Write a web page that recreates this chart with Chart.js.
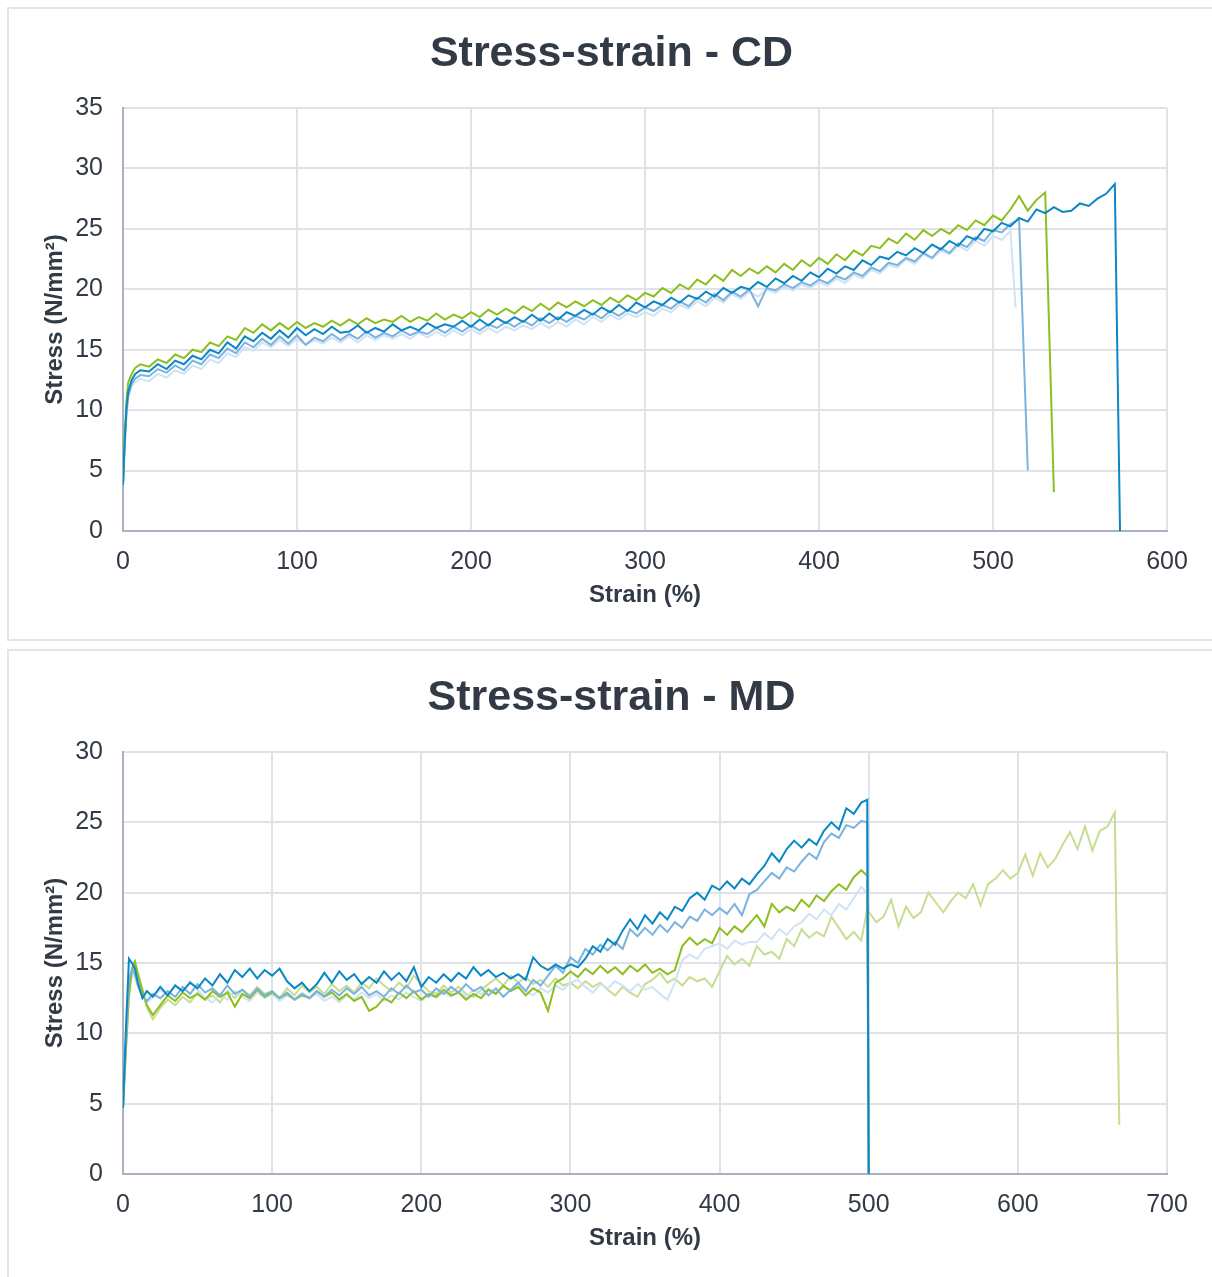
<!DOCTYPE html>
<html>
<head>
<meta charset="utf-8">
<title>Stress-strain</title>
<script src="https://cdn.jsdelivr.net/npm/chart.js@4"></script>
<style>
  body { margin: 0; background: #fff; width: 1212px; height: 1277px; overflow: hidden; position: relative; }
  .panel { position: absolute; left: 7px; width: 1212px; border: 2px solid #e1e5eb; box-sizing: border-box; }
  #p1 { top: 7px; height: 634px; }
  #p2 { top: 649px; height: 640px; }
  canvas { position: absolute; left: 0; }
  #cd { top: 0; }
  #md { top: 644px; }
  .title {
    position: absolute; left: 0; width: 1223px; text-align: center;
    font: bold 43px/50px "Liberation Sans", Arial, Helvetica, sans-serif;
    color: #323a46; white-space: nowrap;
  }
  #t1 { top: 26px; }
  #t2 { top: 670px; }
</style>
</head>
<body>
<div class="panel" id="p1"></div>
<div class="panel" id="p2"></div>
<canvas id="cd" width="1212" height="644"></canvas>
<canvas id="md" width="1212" height="633"></canvas>
<div class="title" id="t1">Stress-strain - CD</div>
<div class="title" id="t2">Stress-strain - MD</div>
<script>
// ---- CD data (strain %, stress N/mm²) ----
const cdStrain = [0, 1, 2, 3, 5, 7, 10,
  15, 20, 25, 30, 35, 40, 45, 50, 55, 60,
  65, 70, 75, 80, 85, 90, 95, 100, 105, 110,
  115, 120, 125, 130, 135, 140, 145, 150, 155, 160,
  165, 170, 175, 180, 185, 190, 195, 200, 205, 210,
  215, 220, 225, 230, 235, 240, 245, 250, 255, 260,
  265, 270, 275, 280, 285, 290, 295, 300, 305, 310,
  315, 320, 325, 330, 335, 340, 345, 350, 355, 360,
  365, 370, 375, 380, 385, 390, 395, 400, 405, 410,
  415, 420, 425, 430, 435, 440, 445, 450, 455, 460,
  465, 470, 475, 480, 485, 490, 495, 500, 505, 510,
  515, 520, 525, 530, 535, 540, 545, 550, 555, 560,
  565, 570];

const cdSample1 = [3.8, 7.5, 10.2, 11.5, 12.5, 13.0, 13.3,
  13.2, 13.8, 13.4, 14.1, 13.8, 14.5, 14.2, 15.0, 14.7, 15.6,
  15.1, 16.1, 15.7, 16.4, 15.9, 16.6, 16.0, 16.8, 16.2, 16.7,
  16.3, 16.9, 16.4, 16.5, 17.0, 16.4, 16.8, 16.5, 17.1, 16.6,
  16.9, 16.6, 17.2, 16.8, 17.1, 16.9, 17.4, 16.9, 17.5, 17.0,
  17.6, 17.2, 17.7, 17.3, 17.9, 17.4, 18.0, 17.5, 18.1, 17.8,
  18.3, 17.9, 18.5, 18.1, 18.7, 18.2, 18.9, 18.5, 19.0, 18.7,
  19.3, 18.9, 19.5, 19.2, 19.8, 19.4, 20.1, 19.7, 20.2, 20.0,
  20.6, 20.2, 20.9, 20.5, 21.1, 20.7, 21.4, 21.0, 21.7, 21.3,
  21.9, 21.6, 22.4, 22.0, 22.7, 22.5, 23.1, 22.8, 23.4, 23.0,
  23.7, 23.3, 24.0, 23.6, 24.4, 24.1, 25.0, 24.8, 25.5, 25.2,
  25.9, 25.6, 26.6, 26.3, 26.8, 26.4, 26.5, 27.1, 26.9, 27.5,
  27.9, 28.7];
const cdSample2 = [3.8, 8.0, 10.8, 12.3, 13.0, 13.5, 13.8,
  13.6, 14.2, 13.9, 14.6, 14.3, 15.0, 14.8, 15.6, 15.3, 16.1,
  15.8, 16.8, 16.4, 17.1, 16.6, 17.2, 16.7, 17.3, 16.8, 17.2,
  16.9, 17.4, 17.0, 17.5, 17.1, 17.6, 17.2, 17.5, 17.3, 17.8,
  17.3, 17.7, 17.4, 18.0, 17.5, 17.9, 17.6, 18.1, 17.7, 18.3,
  17.9, 18.4, 18.0, 18.6, 18.2, 18.8, 18.3, 18.9, 18.5, 19.0,
  18.6, 19.1, 18.7, 19.3, 18.9, 19.5, 19.1, 19.7, 19.4, 20.1,
  19.7, 20.4, 20.0, 20.8, 20.4, 21.2, 20.7, 21.6, 21.1, 21.7,
  21.3, 21.9, 21.4, 22.1, 21.6, 22.4, 21.9, 22.6, 22.1, 22.9,
  22.4, 23.2, 22.8, 23.6, 23.4, 24.2, 23.8, 24.6, 24.1, 24.9,
  24.4, 25.0, 24.6, 25.3, 24.9, 25.7, 25.3, 26.1, 25.7, 26.6,
  27.7, 26.5, 27.4, 28.0];
const cdSample3 = [3.8, 7.2, 9.8, 11.2, 12.2, 12.6, 12.9,
  12.8, 13.4, 13.1, 13.7, 13.3, 14.1, 13.8, 14.6, 14.3, 15.1,
  14.7, 15.6, 15.2, 15.9, 15.4, 16.1, 15.5, 16.2, 15.4, 16.0,
  15.7, 16.3, 15.8, 16.3, 15.9, 16.5, 16.0, 16.4, 16.1, 16.6,
  16.2, 16.5, 16.3, 16.8, 16.4, 16.9, 16.5, 17.0, 16.6, 17.1,
  16.8, 17.3, 16.9, 17.4, 17.0, 17.6, 17.2, 17.7, 17.3, 17.8,
  17.5, 18.0, 17.6, 18.2, 17.8, 18.3, 18.0, 18.5, 18.2, 18.7,
  18.4, 19.0, 18.6, 19.3, 18.9, 19.6, 19.1, 19.8, 19.4, 20.0,
  18.6, 20.1, 19.9, 20.4, 20.1, 20.6, 20.3, 20.8, 20.5, 21.1,
  20.8, 21.4, 21.1, 21.8, 21.5, 22.2, 22.0, 22.6, 22.3, 23.0,
  22.6, 23.4, 23.0, 23.8, 23.5, 24.3, 24.0, 24.9, 24.7, 25.4,
  25.8];
const cdSample4 = [3.8, 7.0, 9.5, 11.0, 12.0, 12.3, 12.6,
  12.4, 13.0, 12.7, 13.3, 13.0, 13.7, 13.4, 14.2, 13.9, 14.7,
  14.4, 15.2, 14.9, 15.6, 15.2, 15.8, 15.3, 15.9, 15.4, 15.8,
  15.5, 16.0, 15.6, 16.1, 15.6, 16.2, 15.8, 16.2, 15.9, 16.3,
  15.9, 16.4, 16.0, 16.5, 16.1, 16.6, 16.2, 16.7, 16.3, 16.8,
  16.4, 16.9, 16.6, 17.0, 16.7, 17.2, 16.8, 17.3, 16.9, 17.5,
  17.1, 17.7, 17.3, 17.9, 17.5, 18.0, 17.7, 18.1, 17.8, 18.4,
  18.1, 18.7, 18.4, 19.0, 18.6, 19.3, 18.9, 19.6, 19.2, 19.8,
  19.4, 20.0, 19.7, 20.2, 19.9, 20.4, 20.1, 20.6, 20.3, 20.9,
  20.5, 21.2, 20.9, 21.6, 21.3, 22.0, 21.8, 22.5, 22.1, 22.9,
  22.5, 23.2, 22.9, 23.6, 23.2, 24.0, 23.6, 24.4, 24.1, 24.8];
// where each sample breaks: final strain / stress
const cdBreakStrain = [573, 535, 520, 513];
const cdBreakStress = [0, 3.2, 5.0, 18.5];

// ---- MD data ----
const mdStrain = [0, 2, 4, 6, 8, 10, 13, 16, 20,
  25, 30, 35, 40, 45, 50, 55, 60, 65, 70,
  75, 80, 85, 90, 95, 100, 105, 110, 115, 120,
  125, 130, 135, 140, 145, 150, 155, 160, 165, 170,
  175, 180, 185, 190, 195, 200, 205, 210, 215, 220,
  225, 230, 235, 240, 245, 250, 255, 260, 265, 270,
  275, 280, 285, 290, 295, 300, 305, 310, 315, 320,
  325, 330, 335, 340, 345, 350, 355, 360, 365, 370,
  375, 380, 385, 390, 395, 400, 405, 410, 415, 420,
  425, 430, 435, 440, 445, 450, 455, 460, 465, 470,
  475, 480, 485, 490, 495, 499,
  505, 510, 515, 520, 525, 530, 535, 540, 545, 550,
  555, 560, 565, 570, 575, 580, 585, 590, 595, 600,
  605, 610, 615, 620, 625, 630, 635, 640, 645, 650,
  655, 660, 665];

const mdSample1 = [4.7, 10.5, 15.3, 15.0, 14.6, 13.6, 12.5, 13.0, 12.6,
  13.3, 12.7, 13.4, 13.0, 13.6, 13.2, 13.9, 13.4, 14.2, 13.6,
  14.5, 14.0, 14.6, 13.9, 14.5, 14.1, 14.6, 13.7, 13.2, 13.6,
  13.0, 13.5, 14.3, 13.6, 14.4, 13.8, 14.2, 13.5, 14.0, 13.6,
  14.4, 13.8, 14.3, 13.7, 14.7, 13.3, 14.0, 13.6, 14.2, 13.7,
  14.3, 13.9, 14.7, 14.1, 14.5, 14.0, 14.3, 13.9, 14.2, 13.8,
  15.4, 14.8, 14.5, 14.9, 14.6, 14.9, 14.7, 15.3, 16.2, 15.8,
  16.7, 16.3, 17.3, 18.1, 17.4, 18.4, 17.8, 18.6, 18.1, 19.0,
  18.7, 19.6, 20.0, 19.5, 20.5, 20.2, 20.8, 20.3, 21.0, 20.6,
  21.3, 21.9, 22.8, 22.2, 23.1, 23.7, 23.2, 23.8, 23.4, 24.4,
  25.0, 24.5, 26.0, 25.6, 26.4, 26.6];
const mdSample2 = [4.7, 9.5, 13.8, 14.6, 14.2, 13.4, 12.6, 12.3, 12.8,
  12.5, 13.0, 12.6, 13.3, 12.8, 13.5, 12.9, 13.2, 12.7, 13.4,
  12.8, 13.1, 12.6, 13.2, 12.7, 13.0, 12.5, 12.9, 12.4, 12.8,
  12.5, 13.0, 12.6, 13.1, 12.7, 13.2, 12.8, 13.3, 12.7, 13.0,
  12.6, 13.2, 12.8, 13.4, 12.9, 13.1, 12.6, 13.2, 12.8, 13.3,
  12.9, 13.5, 13.0, 13.3, 12.7, 13.2, 12.6, 13.1, 13.6, 13.0,
  13.8, 13.4, 14.1, 14.8, 14.3, 15.4, 15.0, 16.0, 15.6, 16.3,
  15.9, 16.5, 16.0, 17.4, 16.9, 17.5, 17.0, 17.7, 17.2, 17.9,
  17.5, 18.3, 18.0, 18.8, 18.4, 18.9, 18.5, 19.2, 18.4, 19.9,
  20.2, 20.8, 21.4, 21.0, 21.8, 21.5, 22.2, 22.8, 22.4, 23.6,
  24.2, 23.9, 24.8, 24.6, 25.1, 25.0];
const mdSample3 = [4.7, 9.0, 12.8, 14.5, 15.1, 14.2, 13.0, 12.0, 11.3,
  12.0, 12.7, 12.3, 12.9, 12.5, 12.8, 12.4, 13.0, 12.6, 12.9,
  11.9, 12.8, 12.5, 13.1, 12.6, 12.9, 12.5, 12.8, 12.4, 12.7,
  12.5, 13.0, 12.6, 12.9, 12.4, 12.8, 12.3, 12.6, 11.6, 11.9,
  12.5, 12.2, 12.9, 12.5, 13.0, 12.4, 12.8, 12.6, 13.1, 12.7,
  12.9, 12.4, 12.8, 12.5, 13.1, 12.8, 13.4, 13.0, 13.3, 12.7,
  13.2, 12.9, 11.6, 13.6, 13.9, 14.4, 14.0, 14.6, 14.2, 14.8,
  14.3, 14.7, 14.2, 14.8, 14.4, 14.9, 14.3, 14.6, 14.2, 14.5,
  16.2, 16.8, 16.3, 16.7, 16.4, 17.5, 17.0, 17.6, 17.2, 17.8,
  18.4, 17.6, 19.2, 18.6, 19.0, 18.7, 19.5, 19.0, 19.8, 19.4,
  20.1, 20.6, 20.2, 21.1, 21.6, 21.2];
const mdSample4 = [4.7, 9.2, 13.2, 14.2, 14.0, 13.3, 12.8, 12.2, 12.6,
  13.1, 12.7, 13.4, 12.9, 13.7, 13.1, 12.5, 12.2, 12.8, 12.4,
  13.0, 12.6, 12.3, 12.9, 12.5, 12.8, 12.3, 12.7, 12.4, 12.9,
  12.5, 12.8, 12.3, 12.6, 12.2, 12.7, 12.4, 12.9, 12.5, 12.8,
  12.3, 12.7, 12.4, 12.9, 12.6, 12.3, 12.8, 12.5, 12.9, 12.6,
  13.0, 12.6, 13.1, 12.8, 13.2, 12.9, 13.3, 13.0, 13.4, 13.0,
  12.7, 13.2, 12.9, 13.4, 13.1, 13.6, 13.8, 13.3, 12.9, 13.5,
  13.2, 13.7, 13.4, 13.0, 13.5, 13.1, 13.3, 12.8, 12.4, 13.6,
  15.2, 15.6, 15.3, 16.0, 16.2, 16.4, 16.0, 16.6, 16.3, 16.5,
  16.5, 17.1, 16.7, 17.4, 17.0, 17.6, 17.9, 18.5, 18.1, 18.8,
  18.4, 19.2, 18.8, 19.6, 20.4, 20.0];
const mdSample5 = [4.7, 8.8, 12.5, 14.3, 15.0, 14.3, 13.2, 11.8, 11.0,
  11.8, 12.4, 12.0, 12.6, 12.2, 12.9, 12.4, 12.7, 12.2, 13.0,
  12.5, 13.1, 12.7, 13.3, 12.8, 13.0, 12.5, 13.2, 12.7, 13.4,
  12.9, 13.3, 12.8, 13.5, 13.0, 13.4, 12.9, 13.6, 13.2, 13.9,
  13.4, 13.0, 13.6, 13.2, 14.1, 13.5, 13.0, 12.8, 13.4, 12.9,
  13.3, 12.8, 12.6, 13.1, 13.5, 13.9, 13.4, 14.1, 13.6, 14.0,
  13.5, 13.8, 13.3, 13.9, 13.4, 13.6, 13.2, 13.7, 13.3, 13.6,
  13.1, 12.7, 13.3, 12.9, 12.6, 13.5, 13.8, 14.3, 13.6, 13.9,
  13.4, 14.0, 13.7, 13.9, 13.3, 14.4, 15.5, 14.9, 15.3, 14.8,
  16.2, 15.6, 15.8, 15.3, 16.7, 16.2, 17.4, 16.8, 17.2, 16.9,
  18.3, 17.5, 16.7, 17.2, 16.6, 18.8,
  17.9, 18.3, 19.5, 17.6, 19.0, 18.2, 18.6, 20.0, 19.3, 18.6,
  19.4, 20.0, 19.6, 20.6, 19.1, 20.6, 21.0, 21.6, 21.0, 21.4,
  22.7, 21.2, 22.8, 21.8, 22.4, 23.4, 24.3, 23.1, 24.7, 23.0,
  24.4, 24.7, 25.7];
const mdBreakStrain = [500, 500, 500, 500, 668];
const mdBreakStress = [0, 0, 0, 0, 3.5];

const colors = {
  dark: "#0a87c4",
  mid: "#7ab3df",
  pale: "#d0e3f5",
  green: "#8cbf1e",
  paleGreen: "#c6dd92"
};

const fontFamily = '"Liberation Sans", Arial, Helvetica, sans-serif';
const textColor = "#323a46";

// join strain + stress arrays into {x, y} points, ending at the break point
function toPoints(strain, stress, bx, by) {
  const pts = stress.map((v, i) => ({ x: strain[i], y: v }));
  pts.push({ x: bx, y: by });
  return pts;
}

function lineSet(data, color) {
  return {
    data: data,
    borderColor: color,
    borderWidth: 2,
    pointRadius: 0,
    tension: 0,
    fill: false
  };
}

function makeChart(id, datasets, xMax, yMax, bottomPad) {
  return new Chart(document.getElementById(id), {
    type: "line",
    data: { datasets: datasets },
    options: {
      responsive: false,
      animation: false,
      events: [],
      layout: { padding: { left: 0, right: 45, top: 108, bottom: bottomPad } },
      plugins: {
        legend: { display: false },
        tooltip: { enabled: false },
        title: { display: false }
      },
      scales: {
        x: {
          type: "linear",
          min: 0,
          max: xMax,
          ticks: {
            stepSize: 100,
            color: textColor,
            padding: 16,
            font: { family: fontFamily, size: 25 },
            maxRotation: 0
          },
          grid: { color: "#dfe3e9", lineWidth: 2, drawTicks: false },
          border: { color: "#a9b3c2", width: 2 },
          title: {
            display: true,
            text: "Strain (%)",
            color: textColor,
            font: { family: fontFamily, size: 24, weight: "bold", lineHeight: 1.2 },
            padding: { top: 0, bottom: 0 }
          },
          afterFit: (scale) => { scale.height = 79; }
        },
        y: {
          min: 0,
          max: yMax,
          ticks: {
            stepSize: 5,
            color: textColor,
            padding: 20,
            font: { family: fontFamily, size: 25 }
          },
          grid: { color: "#dfe3e9", lineWidth: 2, drawTicks: false },
          border: { color: "#a9b3c2", width: 2 },
          title: {
            display: true,
            text: "Stress (N/mm²)",
            color: textColor,
            font: { family: fontFamily, size: 24, weight: "bold", lineHeight: 1.2 },
            padding: { top: 41, bottom: 0 }
          },
          afterFit: (scale) => { scale.width = 123; }
        }
      }
    }
  });
}

// first dataset is drawn on top
makeChart("cd", [
  lineSet(toPoints(cdStrain, cdSample1, cdBreakStrain[0], cdBreakStress[0]), colors.dark),
  lineSet(toPoints(cdStrain, cdSample2, cdBreakStrain[1], cdBreakStress[1]), colors.green),
  lineSet(toPoints(cdStrain, cdSample3, cdBreakStrain[2], cdBreakStress[2]), colors.mid),
  lineSet(toPoints(cdStrain, cdSample4, cdBreakStrain[3], cdBreakStress[3]), colors.pale)
], 600, 35, 34);

makeChart("md", [
  lineSet(toPoints(mdStrain, mdSample1, mdBreakStrain[0], mdBreakStress[0]), colors.dark),
  lineSet(toPoints(mdStrain, mdSample2, mdBreakStrain[1], mdBreakStress[1]), colors.mid),
  lineSet(toPoints(mdStrain, mdSample3, mdBreakStrain[2], mdBreakStress[2]), colors.green),
  lineSet(toPoints(mdStrain, mdSample4, mdBreakStrain[3], mdBreakStress[3]), colors.pale),
  lineSet(toPoints(mdStrain, mdSample5, mdBreakStrain[4], mdBreakStress[4]), colors.paleGreen)
], 700, 30, 24);
</script>
</body>
</html>
